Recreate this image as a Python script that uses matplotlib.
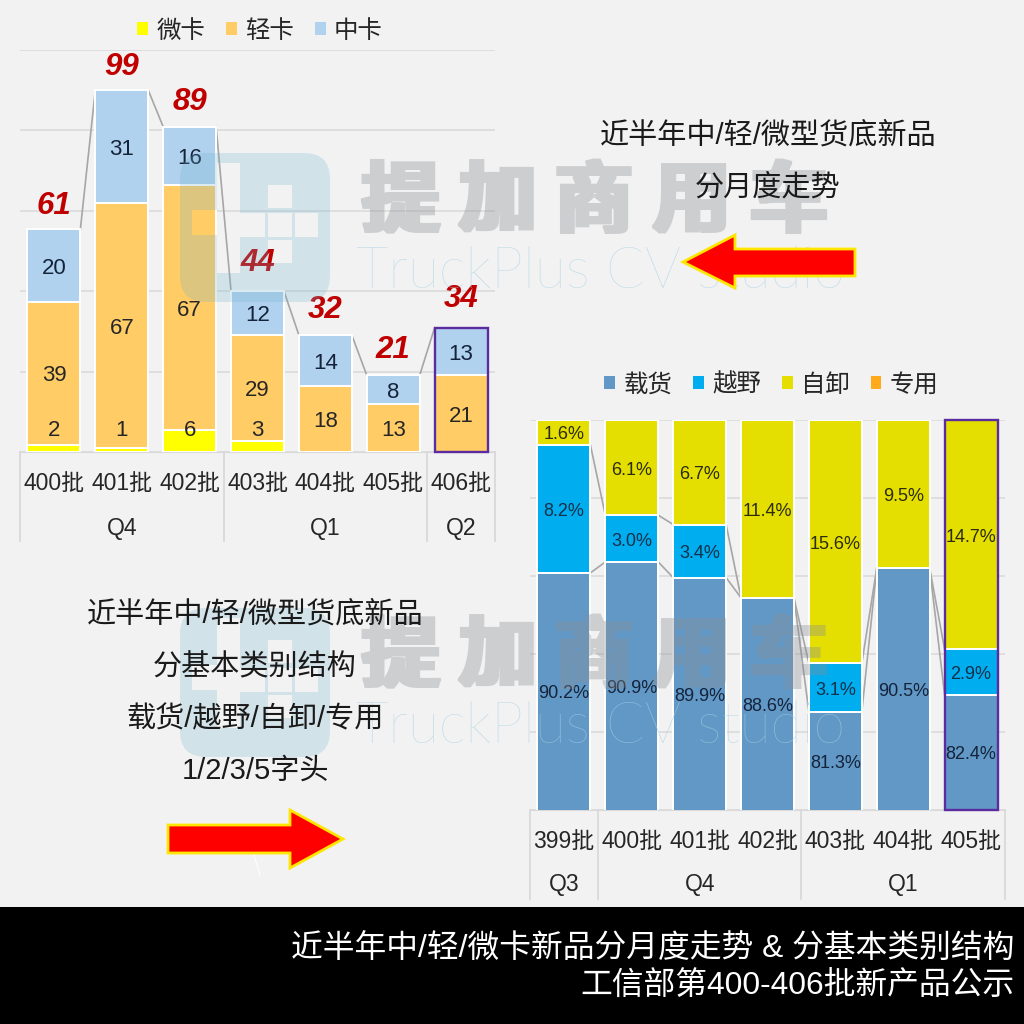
import matplotlib
matplotlib.use("Agg")
import matplotlib.pyplot as plt
import numpy as np
from matplotlib.patches import FancyBboxPatch, PathPatch, Polygon, Rectangle
from matplotlib.path import Path

plt.rcParams["font.family"] = ["Liberation Sans", "Noto Sans CJK SC", "DejaVu Sans"]

# left chart: new models per batch
left_batches = ["400批", "401批", "402批", "403批", "404批", "405批", "406批"]
left_quarters = ["Q4", "Q1", "Q2"]
left_quarter_sizes = [3, 3, 1]
mini = [2, 1, 6, 3, 0, 0, 0]
light = [39, 67, 67, 29, 18, 13, 21]
medium = [20, 31, 16, 12, 14, 8, 13]
totals = [61, 99, 89, 44, 32, 21, 34]

# right chart: share by basic type, axis starts at 75%
right_batches = ["399批", "400批", "401批", "402批", "403批", "404批", "405批"]
right_quarters = ["Q3", "Q4", "Q1"]
right_quarter_sizes = [1, 3, 3]
cargo = [90.2, 90.9, 89.9, 88.6, 81.3, 90.5, 82.4]
offroad = [8.2, 3.0, 3.4, 0, 3.1, 0, 2.9]
dump = [1.6, 6.1, 6.7, 11.4, 15.6, 9.5, 14.7]
special = [0, 0, 0, 0, 0, 0, 0]

BG = "#F2F2F2"
GRID = "#D9D9D9"
LINK = "#A6A6A6"
PURPLE = "#5B2C9F"
TEXT = "#262626"
W = H = 1024


def px_axes(fig, x0, y0, x1, y1):
    # pixel box measured from the top left of the picture
    return fig.add_axes([x0 / W, 1 - y1 / H, (x1 - x0) / W, (y1 - y0) / H])


def pt(px):
    return px * 72 / 100


def stacked(ax, x, series, colors, names, width):
    bottom = np.zeros(len(x))
    for vals, color, name in zip(series, colors, names):
        vals = np.array(vals, dtype=float)
        ax.bar(x, vals, width, bottom=bottom, color=color, label=name,
               edgecolor="white", linewidth=1.4, zorder=3)
        bottom = bottom + vals


def links(ax, x, heights, width):
    for i in range(len(x) - 1):
        ax.plot([x[i] + width / 2, x[i + 1] - width / 2], [heights[i], heights[i + 1]],
                color=LINK, lw=1.2, zorder=2.5, clip_on=False)


def label(ax, x, y, s, size, color):
    # text centre sits a little below the value, as in the original
    ax.annotate(s, (x, y), xytext=(0, -pt(2.5)), textcoords="offset points",
                ha="center", va="center", fontsize=size, color=color, zorder=5)


def style_axis(ax, batches, quarters, sizes, ylim, step, legend_x, legend_y, line_px, q_px, height_px):
    ax.set_xlim(-0.5, 6.5)
    ax.set_ylim(*ylim)
    ax.set_facecolor("none")
    ax.set_yticks(np.arange(ylim[0], ylim[1] + 0.01, step))
    ax.set_yticklabels([])
    ax.yaxis.grid(True, color=GRID, lw=1.1)
    ax.set_axisbelow(True)
    for s in ["top", "left", "right"]:
        ax.spines[s].set_visible(False)
    ax.spines["bottom"].set_color(GRID)
    ax.tick_params(axis="y", length=0)
    ax.tick_params(axis="x", length=0, pad=pt(20), labelsize=16.5, labelcolor=TEXT)
    ax.set_xticks(range(7))
    ax.set_xticklabels(batches)
    edge = -0.5
    tr = ax.get_xaxis_transform()
    ax.plot([edge, edge], [0, -line_px / height_px], color=GRID, lw=1.3, transform=tr, clip_on=False)
    for q, n in zip(quarters, sizes):
        ax.annotate(q, (edge + n / 2, 0), xycoords=tr, xytext=(0, -pt(q_px)),
                    textcoords="offset points", ha="center", va="center",
                    fontsize=16.5, color=TEXT)
        edge += n
        ax.plot([edge, edge], [0, -line_px / height_px], color=GRID, lw=1.3, transform=tr, clip_on=False)
    leg = ax.legend(loc="center", bbox_to_anchor=(legend_x, legend_y), ncol=4, frameon=False,
                    fontsize=17.6, handlelength=0.44, handleheight=0.44, handletextpad=0.34,
                    columnspacing=0.86, labelcolor=TEXT, borderpad=0, borderaxespad=0)
    for h in leg.legend_handles:
        h.set_linewidth(0)


fig = plt.figure(figsize=(W / 100, H / 100), dpi=100, facecolor=BG)

# --- left chart ---
ax1 = px_axes(fig, 20, 50, 495, 452)
x = np.arange(7)
bw = 0.78
stacked(ax1, x, [mini, light, medium], ["#FFFF00", "#FFCC66", "#B0D2EE"], ["微卡", "轻卡", "中卡"], bw)
style_axis(ax1, left_batches, left_quarters, left_quarter_sizes, (0, 110), 22, 0.505, 1.047, 89, 77, 402)
links(ax1, x, totals, bw)
ax1.bar(x[-1], totals[-1], bw, fill=False, edgecolor=PURPLE, lw=1.7, zorder=4, clip_on=False)

total_gaps = [23, 23, 25, 28, 25, 25, 29]
low = np.array(mini, dtype=float)
for i in x:
    if mini[i] > 0:
        # thin segment, so the number sits above it
        label(ax1, i, 6.6, str(mini[i]), 16, TEXT)
    label(ax1, i, low[i] + light[i] / 2, str(light[i]), 16, TEXT)
    label(ax1, i, low[i] + light[i] + medium[i] / 2, str(medium[i]), 16, "#14233A")
    ax1.annotate(str(totals[i]), (i, totals[i]), xytext=(0, pt(total_gaps[i])), textcoords="offset points",
                 ha="center", va="center", fontsize=22.5, fontweight="bold", fontstyle="italic",
                 color="#C00000", zorder=6, annotation_clip=False)

# --- right chart ---
ax2 = px_axes(fig, 530, 420, 1005, 810)
stacked(ax2, x, [cargo, offroad, dump, special], ["#6298C6", "#00ADEF", "#E4DF00", "#FFAA1A"],
        ["载货", "越野", "自卸", "专用"], bw)
style_axis(ax2, right_batches, right_quarters, right_quarter_sizes, (75, 100), 5, 0.508, 1.09, 89, 75, 390)
cum1 = np.array(cargo)
cum2 = cum1 + np.array(offroad)
links(ax2, x, cum1, bw)
links(ax2, x, cum2, bw)
ax2.bar(x[-1], 25, bw, bottom=75, fill=False, edgecolor=PURPLE, lw=1.7, zorder=4, clip_on=False)

for i in x:
    label(ax2, i, (75 + cargo[i]) / 2, f"{cargo[i]:.1f}%", 13, "#14233A")
    if offroad[i] > 0:
        label(ax2, i, cum1[i] + offroad[i] / 2, f"{offroad[i]:.1f}%", 13, "#14304A")
    label(ax2, i, cum2[i] + dump[i] / 2, f"{dump[i]:.1f}%", 13, "#2B2B10")

# --- overlay: watermark, notes, arrows, footer (pixel coordinates) ---
ov = fig.add_axes([0, 0, 1, 1], zorder=10)
ov.set_xlim(0, W)
ov.set_ylim(H, 0)
ov.axis("off")


def rect_path(x0, y0, w, h):
    # opposite winding to the outline, so it cuts a hole in the logo
    return Path([(x0, y0), (x0, y0 + h), (x0 + w, y0 + h), (x0 + w, y0), (x0, y0)],
                [Path.MOVETO, Path.LINETO, Path.LINETO, Path.LINETO, Path.CLOSEPOLY])


def heavy(img, dpi):
    # fatten the glyphs and make them see-through in one go, no doubled edges
    pad = 4
    a = np.pad(img[:, :, 3], pad)
    out = a.copy()
    for dx in range(-3, 4):
        for dy in range(-1, 2):
            out = np.maximum(out, np.roll(np.roll(a, dx, axis=1), dy, axis=0))
    res = np.zeros(out.shape + (4,))
    res[:, :, 0] = 0x8A / 255
    res[:, :, 1] = 0x8D / 255
    res[:, :, 2] = 0x95 / 255
    res[:, :, 3] = out * 0.36
    return res, -pad, -pad


def watermark(dy):
    box = FancyBboxPatch((180, 153 + dy), 150, 149, boxstyle="round,pad=0,rounding_size=26")
    outer = box.get_path()
    holes = [(217, 163, 23, 110), (192, 210, 25, 25), (268, 185, 24, 23), (240, 213, 25, 24),
             (268, 213, 24, 24), (295, 213, 23, 24), (268, 240, 24, 23)]
    paths = [outer] + [rect_path(a, b + dy, c, d) for a, b, c, d in holes]
    ov.add_patch(PathPatch(Path.make_compound_path(*paths), facecolor="#6FB0CF", edgecolor="none",
                           alpha=0.24, zorder=1))
    for k, ch in enumerate("提加商用车"):
        t = ov.text(400 + k * 97, 205 + dy, ch, ha="center", va="center", fontsize=56, fontweight="bold",
                    color="#8A8D95", zorder=1)
        t.set_agg_filter(heavy)
    ov.text(356, 272 + dy, "TruckPlus CV studio", ha="left", va="center", fontsize=41,
            family=["Lato", "Liberation Sans"], fontweight="light", color="#A9D0E2", alpha=0.7, zorder=1)


watermark(0)
watermark(455)

for y, s in zip([136, 188], ["近半年中/轻/微型货底新品", "分月度走势"]):
    ov.text(768, y, s, ha="center", va="center", fontsize=21, color="#1A1A1A", zorder=3)
for y, s in zip([615, 667, 719, 771],
                ["近半年中/轻/微型货底新品", "分基本类别结构", "载货/越野/自卸/专用", "1/2/3/5字头"]):
    ov.text(255, y, s, ha="center", va="center", fontsize=21, color="#1A1A1A", zorder=3)

ov.add_patch(Polygon([(683, 262), (735, 235), (735, 249), (855, 249), (855, 276), (735, 276), (735, 288)],
                     facecolor="#FF0000", edgecolor="#FFE600", lw=2, zorder=3))
ov.add_patch(Polygon([(343, 839), (290, 810), (290, 825), (168, 825), (168, 853), (290, 853), (290, 868)],
                     facecolor="#FF0000", edgecolor="#FFE600", lw=2, zorder=3))
ov.plot([254, 260], [855, 875], color="white", lw=0.8, zorder=3)

ov.add_patch(Rectangle((0, 907), W, 117, facecolor="black", edgecolor="none", zorder=4))
ov.text(1014, 950, "近半年中/轻/微卡新品分月度走势 & 分基本类别结构", ha="right", va="center",
        fontsize=22.9, color="white", zorder=5)
ov.text(1014, 987, "工信部第400-406批新产品公示", ha="right", va="center",
        fontsize=22.9, color="white", zorder=5)

fig.savefig("out.png", dpi=100, facecolor=BG)
